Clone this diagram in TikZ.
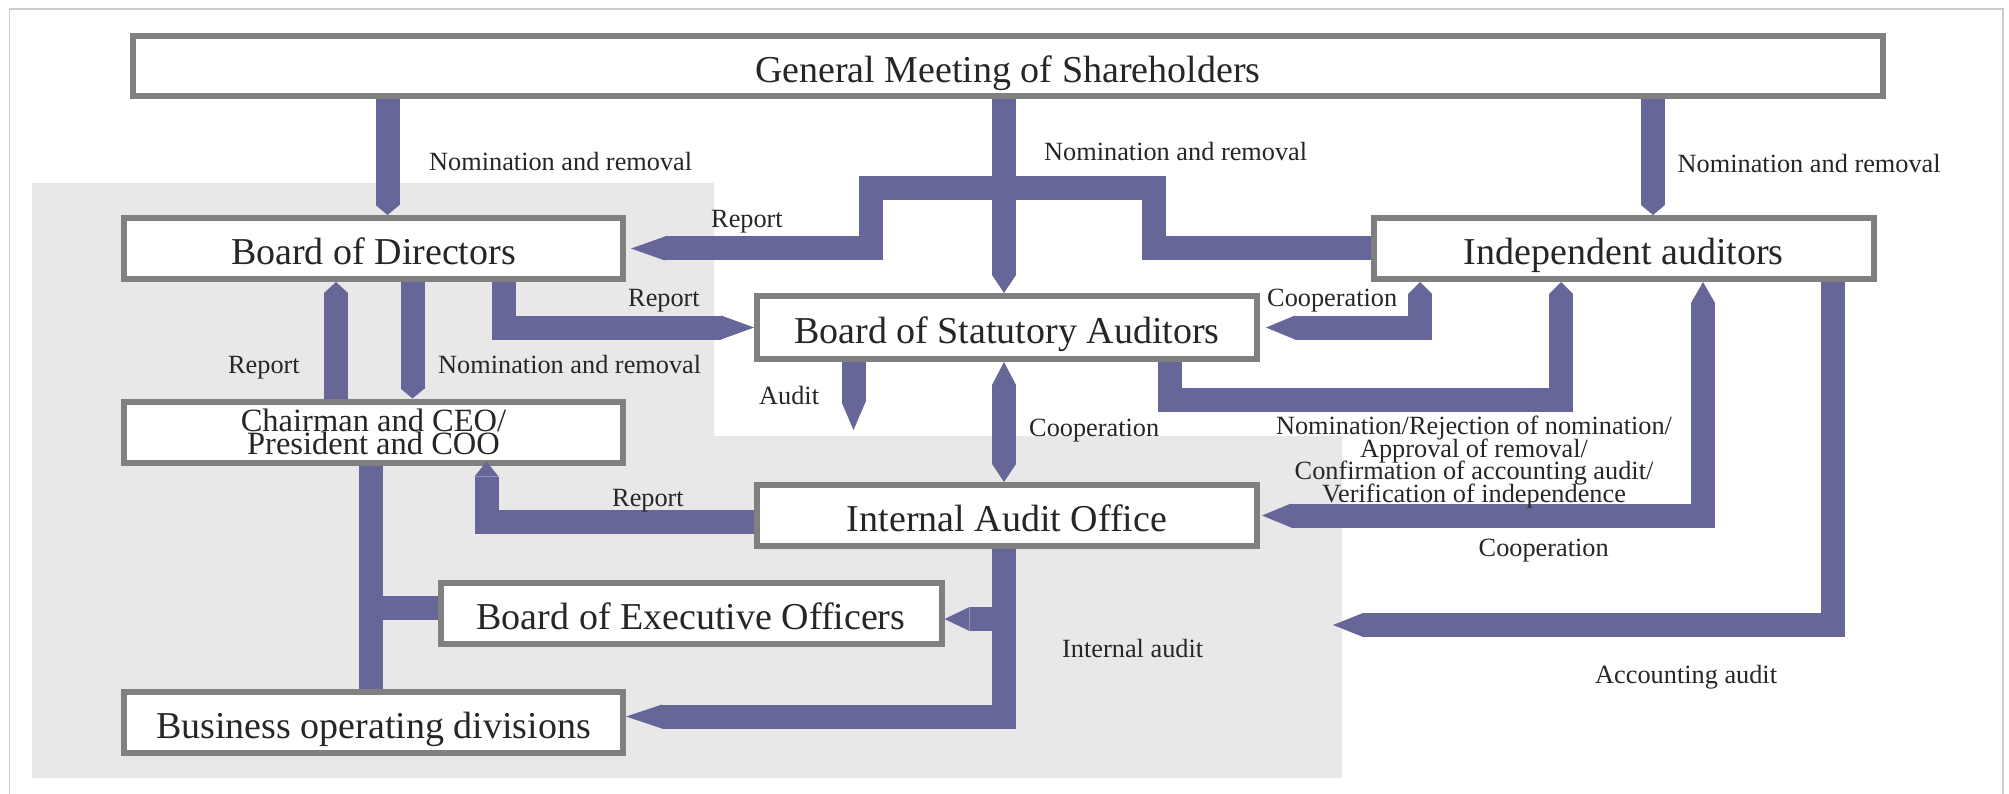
\documentclass[tikz,border=0pt]{standalone}
\usepackage{fontspec}
\setmainfont{Liberation Serif}
\usetikzlibrary{arrows.meta,calc}
\definecolor{arrowc}{RGB}{102,102,153}
\definecolor{boxgray}{RGB}{128,128,128}
\definecolor{txt}{RGB}{38,38,38}
\definecolor{panel}{RGB}{232,232,232}
\definecolor{framec}{RGB}{205,205,205}
\newcommand\tightls{\lineskiplimit -100pt\relax}
\newcommand\chairfont{\fontsize{32.5}{23}\selectfont\tightls}
\newcommand\multifont{\fontsize{26.3}{22.4}\selectfont\tightls}
\begin{document}
\begin{tikzpicture}[x=1pt,y=-1pt,
  boxbase/.style={draw=boxgray, line width=6pt, fill=white, inner sep=0pt, text=txt},
  box/.style={boxbase, font=\fontsize{38}{40}\selectfont, text height=32.5pt, text depth=0pt},
  lbl/.style={inner sep=0pt, text=txt, font=\fontsize{26.3}{22.2}\selectfont, anchor=base west},
  fat/.style={draw=arrowc, line width=24pt, line cap=butt, line join=miter},
  endarr/.style={-{Triangle[length=#1,width=24pt,line width=0pt 0 0]}},
  botharr/.style 2 args={{Triangle[length=#1,width=24pt,line width=0pt 0 0]}-{Triangle[length=#2,width=24pt,line width=0pt 0 0]}}
]
\useasboundingbox (0,0) rectangle (2009,794);
\fill[white] (0,0) rectangle (2009,794);
% outer frame
\draw[framec, line width=1.5pt] (9.5,794) -- (9.5,9) -- (2003,9) -- (2003,794);
% grey panel
\fill[panel] (32,183) -- (714,183) -- (714,436) -- (1342,436) -- (1342,778) -- (32,778) -- cycle;

% boxes
\node[box, minimum width=1749.5pt, minimum height=60pt] (gms) at (1007.75,66) {General Meeting of Shareholders};
\node[box, minimum width=499pt, minimum height=61pt] (bod) at (373.5,248.5) {Board of Directors};
\node[boxbase, minimum width=499pt, minimum height=61pt, align=center, font=\chairfont] (chair) at (373.5,432) {Chairman and CEO/\\President and COO};
\node[box, minimum width=500pt, minimum height=63pt] (bsa) at (1007,327.5) {Board of Statutory Auditors};
\node[box, minimum width=499.5pt, minimum height=61pt] (ia) at (1623.75,248.5) {Independent auditors};
\node[box, minimum width=500pt, minimum height=61pt] (iao) at (1007,515.5) {Internal Audit Office};
\node[box, minimum width=501pt, minimum height=61pt] (beo) at (691,613.5) {Board of Executive Officers};
\node[box, minimum width=499pt, minimum height=61pt] (biz) at (373.5,722.5) {Business operating divisions};

% columns and bend points
\coordinate (cA) at (387.5,0);
\coordinate (cB) at (1004,0);
\coordinate (cD) at (1653,0);
\coordinate (cE) at (336,0);
\coordinate (cF) at (412.5,0);
\coordinate (cG) at (503.5,0);
\coordinate (cH) at (853.5,0);
\coordinate (cJ) at (1420,0);
\coordinate (cK) at (1170,0);
\coordinate (kc) at (1561,400);
\coordinate (cL) at (1703,0);
\coordinate (cM) at (1832.5,0);
\coordinate (cN) at (486.5,0);
\coordinate (cO) at (370.5,0);
\coordinate (auditend) at (853.5,430);
\coordinate (acctend) at (1333,625);
\coordinate (ns) at ($(iao.west)+(0,6.5)$);
\coordinate (ob) at (370.5,607.5);
\coordinate (pb) at (1004,716.5);
\coordinate (pq) at (1004,619);

% connectors
\draw[fat, endarr=10pt] (cA |- gms.south) -- (cA |- bod.north);
\draw[fat, endarr=18pt] (cB |- gms.south) -- (cB |- bsa.north);
\draw[fat, endarr=34pt, shorten >=5pt] (ia.west) -| (1153.5,188) -- (871,188) |- (bod.east);
\draw[fat, endarr=10pt] (cD |- gms.south) -- (cD |- ia.north);
\draw[fat, endarr=11pt] (cE |- chair.north) -- (cE |- bod.south);
\draw[fat, endarr=10pt] (cF |- bod.south) -- (cF |- chair.north);
\draw[fat, endarr=33pt] (cG |- bod.south) |- (bsa.west);
\draw[fat, endarr=28pt] (cH |- bsa.south) -- (auditend);
\draw[fat, botharr={23pt}{18pt}] (cB |- bsa.south) -- (cB |- iao.north);
\draw[fat, botharr={12pt}{29pt}, shorten >=6pt] (cJ |- ia.south) |- (bsa.east);
\draw[fat, endarr=12pt] (cK |- bsa.south) |- (kc) -- (kc |- ia.south);
\draw[fat, botharr={21pt}{29pt}, shorten >=2pt] (cL |- ia.south) |- (iao.east);
\draw[fat, endarr=30pt] (cM |- ia.south) |- (acctend);
\draw[fat, endarr=15pt, shorten >=-4pt] (ns) -| (cN |- chair.south);
\draw[fat] (cO |- chair.south) -- (cO |- biz.north);
\draw[fat] (ob) -- (ob -| beo.west);
\draw[fat, endarr=36pt] (cB |- iao.south) -- (pb) -- (pb -| biz.east);
\draw[fat, endarr=25pt] (pq) -- (pq -| beo.east);

% labels
\node[lbl] (l1) at (429,171) {Nomination and removal};
\node[lbl] (l2) at (1044,161) {Nomination and removal};
\node[lbl] (l3) at (1677.5,173) {Nomination and removal};
\node[lbl] (l4) at (711,227.5) {Report};
\node[lbl] (l5) at (628,306) {Report};
\node[lbl] (l6) at (228,373) {Report};
\node[lbl] (l7) at (438,373) {Nomination and removal};
\node[lbl] (l8) at (759,404) {Audit};
\node[lbl] (l9) at (1029,436) {Cooperation};
\node[lbl] (l10) at (1267,306) {Cooperation};
\node[inner sep=0pt, text=txt, font=\multifont, align=center] (l11) at (1474,462) {Nomination/Rejection of nomination/\\Approval of removal/\\Confirmation of accounting audit/\\Verification of independence};
\node[lbl] (l12) at (612,506) {Report};
\node[lbl] (l13) at (1478.5,556) {Cooperation};
\node[lbl] (l14) at (1062,657.5) {Internal audit};
\node[lbl] (l15) at (1595,683.5) {Accounting audit};
\end{tikzpicture}
\end{document}
